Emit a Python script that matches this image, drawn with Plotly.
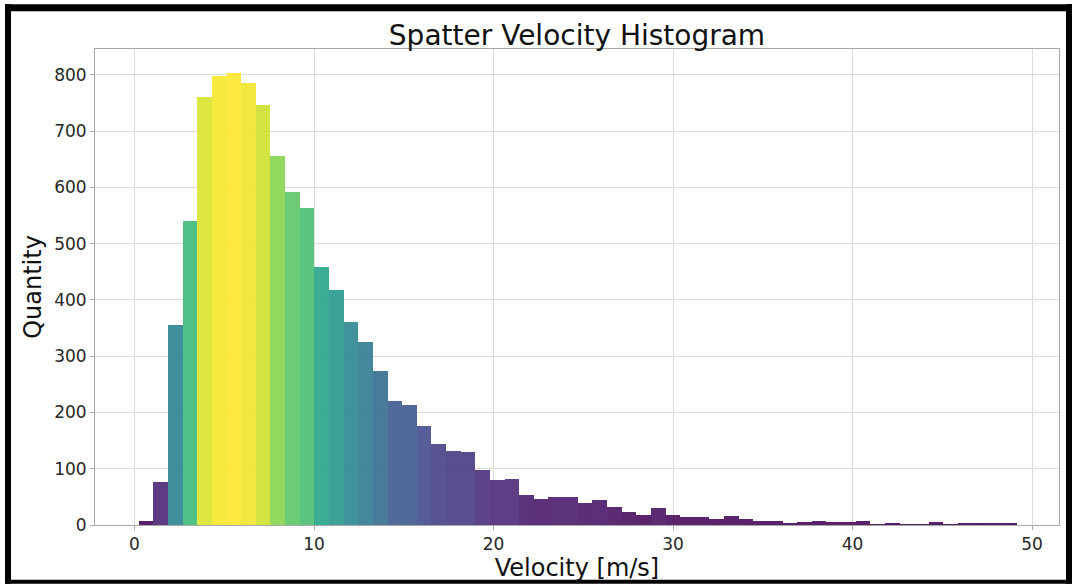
import plotly.graph_objects as go
from plotly.colors import sample_colorscale

# Histogram data (60 bins)
BIN_START = 0.24
BIN_WIDTH = 0.815
counts = [8, 77, 356, 541, 761, 798, 804, 785, 746, 655,
          592, 563, 459, 418, 360, 325, 274, 221, 213, 176,
          144, 132, 129, 98, 80, 81, 54, 47, 49, 49,
          39, 45, 32, 23, 18, 30, 18, 15, 15, 11,
          16, 11, 7, 8, 3, 5, 8, 5, 5, 8,
          1, 2, 1, 1, 5, 1, 3, 2, 3, 2]
x_ticks = [0, 10, 20, 30, 40, 50]
y_ticks = [0, 100, 200, 300, 400, 500, 600, 700, 800]

centers = [BIN_START + BIN_WIDTH * (i + 0.5) for i in range(len(counts))]
cmin, cmax = min(counts), max(counts)
fracs = [(c - cmin) / (cmax - cmin) for c in counts]
colors = sample_colorscale("Viridis", fracs)

W, H = 1072, 586
ML, MR, MT, MB = 95, 13, 49, 59
PW, PH = W - ML - MR, H - MT - MB

def px(x):
    return (x - ML) / PW

def py(y):
    return (H - MB - y) / PH

fig = go.Figure(go.Bar(
    x=centers, y=counts, width=BIN_WIDTH,
    marker=dict(color=colors, line=dict(width=0)),
    opacity=0.88,
))

font = "DejaVu Sans"
axis_common = dict(
    showgrid=True, gridcolor="#dcdcdc", gridwidth=1,
    showline=True, linecolor="#a8a8a8", linewidth=1, mirror=True,
    ticks="outside", ticklen=4, tickcolor="#a8a8a8",
    tickfont=dict(family=font, size=17, color="#262626"),
    zeroline=False,
)

fig.update_layout(
    width=W, height=H,
    margin=dict(l=ML, r=MR, t=MT, b=MB),
    paper_bgcolor="white", plot_bgcolor="white",
    showlegend=False,
    bargap=0,
    title=dict(text="Spatter Velocity Histogram", x=(ML + PW / 2) / W, xanchor="center",
               y=1 - 35 / H, yanchor="middle",
               font=dict(family=font, size=28, color="#111111")),
    xaxis=dict(range=[-2.2, 51.5], tickvals=x_ticks,
               title=dict(text="Velocity [m/s]", standoff=3,
                          font=dict(family=font, size=24, color="#111111")),
               **axis_common),
    yaxis=dict(range=[0, 846], tickvals=y_ticks,
               title=dict(text="Quantity", standoff=5,
                          font=dict(family=font, size=24, color="#111111")),
               **axis_common),
)

# black frame around the image
frame = [
    (5, 4, W, 11),       # top
    (5, 4, 11, H),       # left
    (5, 582, W, H),      # bottom
    (1066, 4, W, H),     # right
]
for x0, y0, x1, y1 in frame:
    fig.add_shape(type="rect", xref="paper", yref="paper",
                  x0=px(x0), x1=px(x1), y0=py(y0), y1=py(y1),
                  fillcolor="black", line=dict(width=0), layer="above")

fig.write_html("out.html")
